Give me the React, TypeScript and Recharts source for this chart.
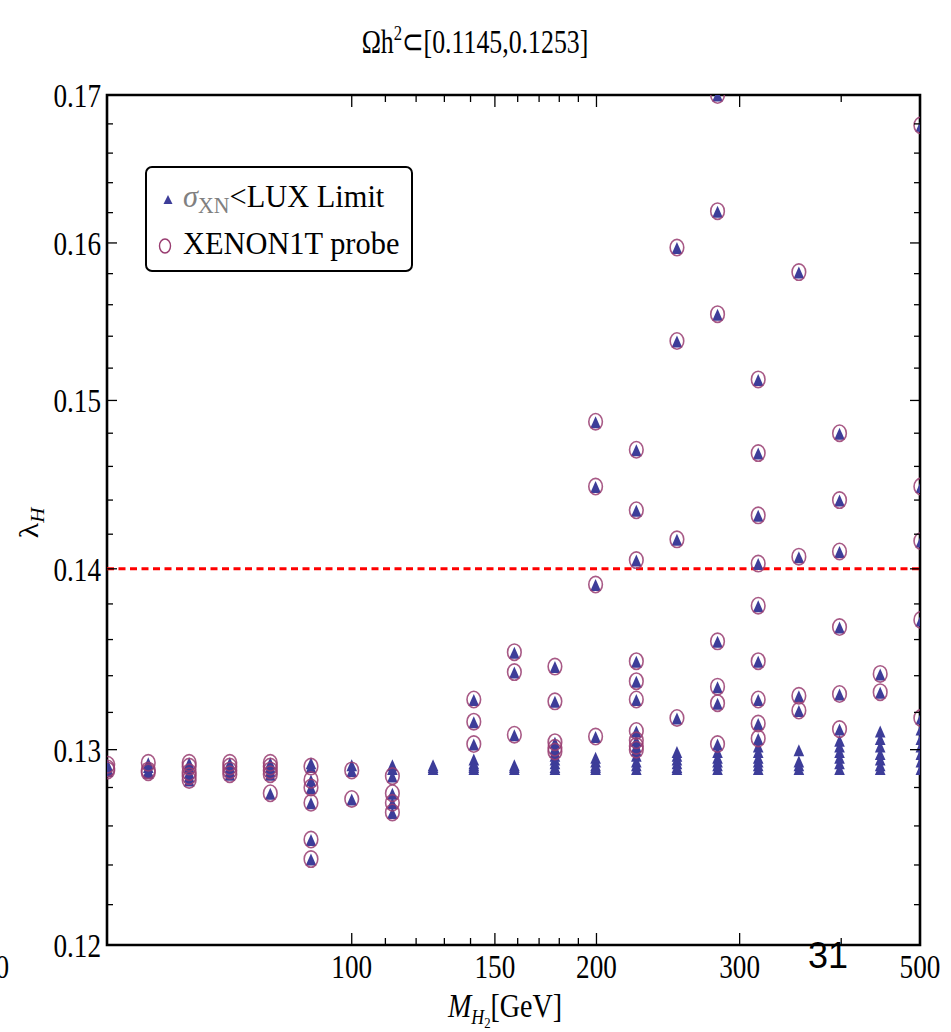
import React from "react";
import {
  ScatterChart,
  Scatter,
  XAxis,
  YAxis,
  ReferenceLine,
  ReferenceArea,
} from "recharts";

// masses of the scan grid, GeV
const massGrid = [
  50.1, 56.2, 63.1, 70.8, 79.4, 89.1, 100, 112.2, 125.9, 141.3, 158.5, 177.8,
  199.5, 223.9, 251.2, 281.8, 316.2, 354.8, 398.1, 446.7, 501.2,
];

// lambda_H of points that XENON1T can probe (they are also below LUX), one list per mass
const probeLambda: number[][] = [
  [0.1292, 0.129, 0.1289],
  [0.1293, 0.1289, 0.1288],
  [0.1293, 0.1291, 0.1288, 0.1286, 0.1284],
  [0.1293, 0.1291, 0.1289, 0.1287],
  [0.1293, 0.1291, 0.1289, 0.1287, 0.1277],
  [0.1291, 0.1284, 0.128, 0.1272, 0.1253, 0.1243],
  [0.1289, 0.1274],
  [0.1286, 0.1277, 0.1272, 0.1267],
  [],
  [0.1327, 0.1315, 0.1303],
  [0.1353, 0.1342, 0.1308],
  [0.1345, 0.1326, 0.1304, 0.1301, 0.1299],
  [0.1487, 0.1448, 0.1391, 0.1307],
  [0.147, 0.1434, 0.1405, 0.1348, 0.1337, 0.1327, 0.131, 0.1305, 0.1302, 0.13],
  [0.1597, 0.1537, 0.1417, 0.1317],
  [0.17, 0.1621, 0.1554, 0.1359, 0.1334, 0.1325, 0.1303],
  [0.1513, 0.1468, 0.1431, 0.1403, 0.1379, 0.1348, 0.1327, 0.1314, 0.1306],
  [0.1581, 0.1407, 0.1329, 0.1321],
  [0.148, 0.144, 0.141, 0.1367, 0.133, 0.1311],
  [0.1341, 0.1331],
  [0.1679, 0.1448, 0.1416, 0.1371, 0.1317],
];

// extra points that pass LUX but are out of XENON1T reach
const luxOnlyLambda: number[][] = [
  [],
  [0.1291],
  [],
  [],
  [],
  [0.1293],
  [0.1292],
  [0.1292, 0.129],
  [0.1292, 0.1291, 0.129],
  [0.1295, 0.1293, 0.1292, 0.1291, 0.129],
  [0.1292, 0.1291, 0.129],
  [0.1297, 0.1295, 0.1293, 0.1291, 0.129],
  [0.1296, 0.1294, 0.1292, 0.1291, 0.129],
  [0.1297, 0.1294, 0.1292, 0.129],
  [0.1299, 0.1297, 0.1295, 0.1293, 0.1291, 0.129],
  [0.1299, 0.1296, 0.1294, 0.1292, 0.129],
  [0.1302, 0.1299, 0.1296, 0.1294, 0.1292, 0.129],
  [0.13, 0.1294, 0.1292, 0.129],
  [0.1305, 0.1302, 0.1299, 0.1296, 0.1293, 0.129],
  [0.131, 0.1306, 0.1302, 0.1298, 0.1295, 0.1292, 0.129],
  [0.1311, 0.1306, 0.1302, 0.1298, 0.1294, 0.129],
];

const xMajorTicks = [100, 150, 200, 300, 500];
const xMinorTicks = [110, 120, 130, 140, 160, 170, 180, 190, 400];
const yMajorTicks = [0.12, 0.13, 0.14, 0.15, 0.16, 0.17];
const yMinorTicks = [
  0.122, 0.124, 0.126, 0.128, 0.132, 0.134, 0.136, 0.138, 0.142, 0.144, 0.146,
  0.148, 0.152, 0.154, 0.156, 0.158, 0.162, 0.164, 0.166, 0.168,
];
const lambdaCut = 0.14;

const W = 951;
const H = 1032;
const PLOT_W = 813;
const PLOT_H = 850;
const SERIF = '"Liberation Serif", "Times New Roman", serif';
const BLUE = "#3d3d99";
const PURPLE = "#993d71";

const probeData = massGrid.flatMap((m, i) =>
  probeLambda[i].map((l) => ({ m, l }))
);
const luxData = massGrid.flatMap((m, i) =>
  [...luxOnlyLambda[i], ...probeLambda[i]].map((l) => ({ m, l }))
);

// the source figure is squeezed sideways, so text is narrowed with scaleX
function SText({ x, y, sx, children, ...rest }: any) {
  return (
    <text
      transform={`translate(${x},${y}) scale(${sx},1)`}
      fontFamily={SERIF}
      fill="#000"
      {...rest}
    >
      {children}
    </text>
  );
}

function Triangle(props: any) {
  const { cx, cy } = props;
  if (cx == null || cy == null) return null;
  return (
    <polygon
      points={`${cx},${cy - 5.5} ${cx - 5.3},${cy + 6.5} ${cx + 5.3},${cy + 6.5}`}
      fill={BLUE}
    />
  );
}

function Ring(props: any) {
  const { cx, cy } = props;
  if (cx == null || cy == null) return null;
  return (
    <ellipse
      cx={cx}
      cy={cy}
      rx={6.8}
      ry={8.2}
      fill="none"
      stroke={PURPLE}
      strokeWidth={1.6}
      strokeOpacity={0.85}
    />
  );
}

function XTick(props: any) {
  const { x, y, payload } = props;
  const v = payload.value;
  const major = xMajorTicks.includes(v);
  const len = major ? 12 : 7;
  return (
    <g>
      <line x1={x} x2={x} y1={y} y2={y - len} stroke="#000" strokeWidth={1.3} />
      <line
        x1={x}
        x2={x}
        y1={y - PLOT_H}
        y2={y - PLOT_H + len}
        stroke="#000"
        strokeWidth={1.3}
      />
      {major && (
        <SText x={x} y={y + 33} sx={0.8} textAnchor="middle" fontSize={34}>
          {v}
        </SText>
      )}
    </g>
  );
}

function YTick(props: any) {
  const { x, y, payload } = props;
  const v = payload.value;
  const major = yMajorTicks.some((t) => Math.abs(t - v) < 1e-9);
  const len = major ? 10 : 6;
  return (
    <g>
      <line x1={x} x2={x + len} y1={y} y2={y} stroke="#000" strokeWidth={1.3} />
      <line
        x1={x + PLOT_W}
        x2={x + PLOT_W - len}
        y1={y}
        y2={y}
        stroke="#000"
        strokeWidth={1.3}
      />
      {major && (
        <SText
          x={x - 6}
          y={y}
          sx={0.8}
          dy="0.35em"
          textAnchor="end"
          fontSize={34}
        >
          {v.toFixed(2)}
        </SText>
      )}
    </g>
  );
}

export default function App() {
  return (
    <div
      style={{
        position: "absolute",
        left: 0,
        top: 0,
        width: W,
        height: H,
        background: "#fff",
      }}
    >
      <ScatterChart
        width={W}
        height={H}
        margin={{ top: 95, right: 31, bottom: 57, left: 47 }}
      >
        <XAxis
          dataKey="m"
          type="number"
          scale="log"
          domain={[50, 500]}
          allowDataOverflow
          ticks={[...xMajorTicks, ...xMinorTicks].sort((a, b) => a - b)}
          interval={0}
          axisLine={false}
          tickLine={false}
          tickSize={0}
          tickMargin={0}
          height={30}
          tick={(p: any) => <XTick {...p} />}
        />
        <YAxis
          dataKey="l"
          type="number"
          scale="log"
          domain={[0.12, 0.17]}
          allowDataOverflow
          ticks={[...yMajorTicks, ...yMinorTicks].sort((a, b) => a - b)}
          interval={0}
          axisLine={false}
          tickLine={false}
          tickSize={0}
          tickMargin={0}
          width={60}
          tick={(p: any) => <YTick {...p} />}
        />
        <ReferenceLine
          y={lambdaCut}
          stroke="#ff0000"
          strokeWidth={3}
          strokeDasharray="7 4.5"
        />
        <Scatter
          name="LUX"
          data={luxData}
          isAnimationActive={false}
          shape={(p: any) => <Triangle {...p} />}
        />
        <Scatter
          name="XENON1T"
          data={probeData}
          isAnimationActive={false}
          shape={(p: any) => <Ring {...p} />}
        />
        <ReferenceArea
          x1={50}
          x2={500}
          y1={0.12}
          y2={0.17}
          fill="none"
          fillOpacity={0}
          stroke="#000"
          strokeWidth={2.6}
          ifOverflow="visible"
        />
      </ScatterChart>

      <svg
        width={W}
        height={H}
        style={{ position: "absolute", left: 0, top: 0, pointerEvents: "none" }}
      >
        {/* title */}
        <SText x={475} y={53} sx={0.76} textAnchor="middle" fontSize={34}>
          Ωh<tspan fontSize={22} dy={-13}>2</tspan>
          <tspan dy={13}>⊂[0.1145,0.1253]</tspan>
        </SText>

        {/* axis titles */}
        <text
          transform="translate(38,523) rotate(-90) scale(1,0.85)"
          textAnchor="middle"
          fontFamily={SERIF}
          fontSize={32}
        >
          λ<tspan fontStyle="italic" fontSize={21} dy={7}>H</tspan>
        </text>
        <SText x={505} y={1017} sx={0.85} textAnchor="middle" fontSize={33}>
          <tspan fontStyle="italic">M</tspan>
          <tspan fontStyle="italic" fontSize={21} dy={7}>H</tspan>
          <tspan fontSize={15} dy={4}>2</tspan>
          <tspan dy={-11}>[GeV]</tspan>
        </SText>

        {/* stray labels from the page */}
        <SText x={9} y={978} sx={0.8} textAnchor="end" fontSize={34}>
          0
        </SText>
        <text
          x={808}
          y={968}
          fontFamily='"Liberation Sans", Arial, sans-serif'
          fontSize={36}
        >
          31
        </text>

        {/* legend */}
        <rect
          x={146}
          y={167}
          width={266}
          height={104}
          rx={6}
          fill="#fff"
          stroke="#000"
          strokeWidth={2}
        />
        <polygon points="168,195 163.5,204 172.5,204" fill={BLUE} />
        <SText x={183} y={207} sx={0.95} fontSize={32}>
          <tspan fill="#808080" fontStyle="italic">σ</tspan>
          <tspan fill="#808080" fontSize={23} dy={6}>XN</tspan>
          <tspan dy={-6}>&lt;LUX Limit</tspan>
        </SText>
        <ellipse
          cx={165}
          cy={246}
          rx={5.5}
          ry={7}
          fill="none"
          stroke={PURPLE}
          strokeWidth={1.4}
        />
        <SText x={183} y={254} sx={0.95} fontSize={32}>
          XENON1T probe
        </SText>
      </svg>
    </div>
  );
}
